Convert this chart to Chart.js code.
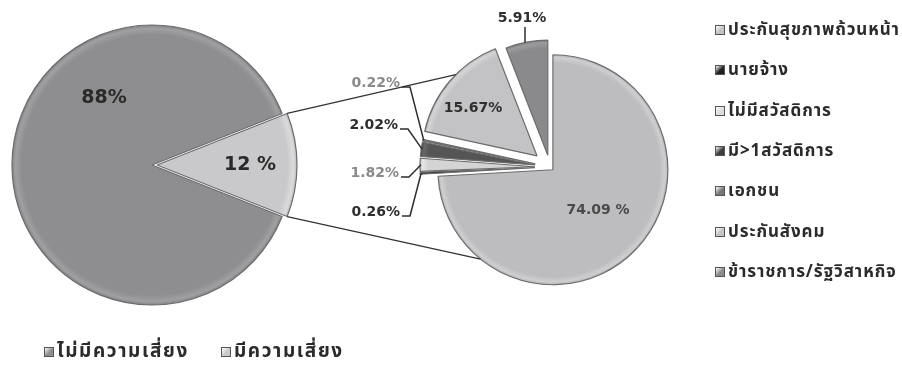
<!DOCTYPE html>
<html>
<head>
<meta charset="utf-8">
<script src="https://cdn.jsdelivr.net/npm/chart.js@4/dist/chart.umd.min.js"></script>
<style>
  html, body { margin: 0; padding: 0; background: #fff; }
  #wrap { position: relative; width: 902px; height: 366px; overflow: hidden;
          font-family: Tahoma, "Noto Sans Thai", "DejaVu Sans", sans-serif; font-weight: bold; }
  #wrap canvas { position: absolute; left: 0; top: 0; }
  .item { position: absolute; display: flex; align-items: center; white-space: nowrap;
          color: #2b2b2b; font-size: 17px; letter-spacing: 0.9px; line-height: 22px; }
  .item.big { font-size: 19px; letter-spacing: 1.6px; }
  .sw { display: inline-block; width: 10px; height: 10px; margin-right: 3px;
        border: 1px solid #555; box-sizing: border-box; flex: none; }
</style>
</head>
<body>
<div id="wrap">
  <canvas id="riskPie" width="902" height="366"></canvas>
  <canvas id="welfarePie" width="902" height="366"></canvas>
</div>
<script>
// Main split: share of people with and without risk
const riskLabels = ['ไม่มีความเสี่ยง', 'มีความเสี่ยง'];
const riskValues = [88, 12];

// Breakdown of the at-risk group by type of health coverage (%)
const welfareLabels = ['ประกันสุขภาพถ้วนหน้า', 'นายจ้าง', 'ไม่มีสวัสดิการ', 'มี>1สวัสดิการ',
                       'เอกชน', 'ประกันสังคม', 'ข้าราชการ/รัฐวิสาหกิจ'];
const welfareValues = [74.09, 0.26, 1.82, 2.02, 0.22, 15.67, 5.91];

const riskColors = ['#8e8e90', '#c9c9cb'];
const welfareColors = ['#bdbdbf', '#1f1f1f', '#d4d4d4', '#555555', '#8d8d8d', '#c3c3c5', '#8a8a8c'];
const welfareSwatches = ['#c2c2c2', '#1f1f1f', '#dcdcdc', '#3e3e3e', '#777777', '#c4c4c4', '#8a8a8a'];

// Pull individual slices away from the centre (pixels, along the slice bisector)
const baseArcDraw = Chart.ArcElement.prototype.draw;
function explodeOf(arc) {
  const c = arc.$context;
  const list = c && c.dataset && c.dataset.explode;
  return list ? (list[c.dataIndex] || 0) : 0;
}
Chart.ArcElement.prototype.draw = function (ctx, area) {
  const d = explodeOf(this);
  const mid = (this.startAngle + this.endAngle) / 2;
  ctx.save();
  ctx.translate(Math.cos(mid) * d, Math.sin(mid) * d);
  baseArcDraw.call(this, ctx, area);
  ctx.restore();
};
function sliceCenter(arc) {
  const d = explodeOf(arc);
  const mid = (arc.startAngle + arc.endAngle) / 2;
  return { x: arc.x + Math.cos(mid) * d, y: arc.y + Math.sin(mid) * d, mid };
}
function rimPoint(arc, angle, extra) {
  const c = sliceCenter(arc);
  const r = arc.outerRadius + (extra || 0);
  return { x: c.x + Math.cos(angle) * r, y: c.y + Math.sin(angle) * r };
}
const deg = Math.PI / 180;
const fmt = (v, gap) => String(v) + (gap ? ' %' : '%');

// Soft bevelled rim: flat fill with a light band just inside the outline
function shade(hex, amt) {
  const n = parseInt(hex.slice(1), 16);
  const f = c => Math.max(0, Math.min(255, Math.round(c + amt)));
  return 'rgb(' + f(n >> 16) + ',' + f((n >> 8) & 255) + ',' + f(n & 255) + ')';
}
function rimFill(colors) {
  return function (context) {
    const chart = context.chart;
    const area = chart.chartArea;
    if (!area) return colors[context.dataIndex];
    const cx = (area.left + area.right) / 2, cy = (area.top + area.bottom) / 2;
    const r = chart.options.radius;
    const base = colors[context.dataIndex];
    const g = chart.ctx.createRadialGradient(cx, cy, 0, cx, cy, r);
    g.addColorStop(0, base);
    g.addColorStop(0.93, base);
    g.addColorStop(0.975, shade(base, 18));
    g.addColorStop(1, shade(base, -10));
    return g;
  };
}

function text(ctx, str, x, y, size, color, align) {
  ctx.save();
  ctx.font = 'bold ' + size + 'px "DejaVu Sans", Verdana, sans-serif';
  ctx.fillStyle = color;
  ctx.textAlign = align || 'center';
  ctx.textBaseline = 'middle';
  ctx.fillText(str, x, y);
  ctx.restore();
}

const riskTotal = riskValues.reduce((a, b) => a + b, 0);

const riskLabelPlugin = {
  id: 'riskLabels',
  afterDatasetsDraw(chart) {
    const ctx = chart.ctx;
    const arcs = chart.getDatasetMeta(0).data;
    const big = arcs[0];
    text(ctx, fmt(riskValues[0]), big.x - 48, big.y - 67, 19, '#2a2a2a');
    const small = arcs[1];
    const c = sliceCenter(small);
    text(ctx, fmt(riskValues[1], true), c.x + Math.cos(c.mid) * 93, c.y + Math.sin(c.mid) * 93, 19, '#2a2a2a');
  }
};

const chartA = new Chart(document.getElementById('riskPie'), {
  type: 'pie',
  data: {
    labels: riskLabels,
    datasets: [{
      data: riskValues,
      backgroundColor: rimFill(riskColors),
      borderColor: '#6c6c6e',
      borderWidth: 1.2,
      explode: [0, 5],
      clip: false
    }]
  },
  options: {
    responsive: false,
    animation: false,
    radius: 140,
    rotation: 90 + riskValues[1] / riskTotal * 180,
    layout: { padding: { left: 0, right: 598, top: 0, bottom: 36 } },
    plugins: { legend: { display: false }, tooltip: { enabled: false } }
  },
  plugins: [riskLabelPlugin]
});

// Value labels of the breakdown pie: inside labels sit at an offset from the pie centre,
// outside labels are right-aligned and joined to their slice by an elbow leader.
const welfareLabelSpec = [
  { i: 0, dx: 48, dy: 43, color: '#4a4a4a', gap: true },
  { i: 5, dx: -77, dy: -59, color: '#2e2e2e' },
  { i: 6, dx: -28, dy: -149, color: '#2e2e2e', vertical: true },
  { i: 4, dx: -150, dy: -84, color: '#8a8a8a', leader: true, align: 'right' },
  { i: 3, dx: -152, dy: -42, color: '#2e2e2e', leader: true, align: 'right' },
  { i: 2, dx: -151, dy: 6, color: '#8a8a8a', leader: true, align: 'right' },
  { i: 1, dx: -150, dy: 45, color: '#2e2e2e', leader: true, align: 'right' }
];

const welfareLabelPlugin = {
  id: 'welfareLabels',
  afterDatasetsDraw(chart) {
    const ctx = chart.ctx;
    const arcs = chart.getDatasetMeta(0).data;
    const cx = arcs[0].x, cy = arcs[0].y;

    // connector lines from the small slice of the main pie to the breakdown pie
    const src = chartA.getDatasetMeta(0).data[1];
    const top = rimPoint(src, src.startAngle);
    const bottom = rimPoint(src, src.endAngle);
    const toTop = rimPoint(arcs[5], (315 - 90) * deg);
    const toBottom = rimPoint(arcs[0], (219 - 90) * deg);
    ctx.save();
    ctx.strokeStyle = '#333';
    ctx.lineWidth = 1.3;
    ctx.beginPath();
    ctx.moveTo(top.x, top.y); ctx.lineTo(toTop.x, toTop.y);
    ctx.moveTo(bottom.x, bottom.y); ctx.lineTo(toBottom.x, toBottom.y);
    ctx.stroke();
    ctx.restore();

    welfareLabelSpec.forEach(s => {
      const arc = arcs[s.i];
      const x = cx + s.dx, y = cy + s.dy;
      const str = fmt(welfareValues[s.i], s.gap);
      text(ctx, str, x, y, 14, s.color, s.align);
      ctx.save();
      ctx.strokeStyle = '#2e2e2e';
      ctx.lineWidth = 1.5;
      if (s.leader) {
        const tip = rimPoint(arc, (arc.startAngle + arc.endAngle) / 2, -1);
        ctx.beginPath();
        ctx.moveTo(x + 2, y + 4);
        ctx.lineTo(x + 10, y + 4);
        ctx.lineTo(tip.x, tip.y);
        ctx.stroke();
      } else if (s.vertical) {
        const c = sliceCenter(arc);
        const lx = x + 3;
        const ry = c.y - Math.sqrt(Math.max(arc.outerRadius * arc.outerRadius - (lx - c.x) * (lx - c.x), 0));
        ctx.beginPath();
        ctx.moveTo(lx, y + 9);
        ctx.lineTo(lx, ry);
        ctx.stroke();
      }
      ctx.restore();
    });
  }
};

new Chart(document.getElementById('welfarePie'), {
  type: 'pie',
  data: {
    labels: welfareLabels,
    datasets: [{
      data: welfareValues,
      backgroundColor: rimFill(welfareColors),
      borderColor: '#6c6c6e',
      borderWidth: 1.2,
      explode: [4, 15, 15, 15, 15, 17, 12],
      clip: false
    }]
  },
  options: {
    responsive: false,
    animation: false,
    radius: 115,
    rotation: 0,
    layout: { padding: { left: 350, right: 152, top: 0, bottom: 32 } },
    plugins: { legend: { display: false }, tooltip: { enabled: false } }
  },
  plugins: [welfareLabelPlugin]
});

// Legends
const wrap = document.getElementById('wrap');
function legendItem(label, color, left, centerY, big) {
  const el = document.createElement('div');
  el.className = big ? 'item big' : 'item';
  el.style.left = left + 'px';
  el.style.top = (centerY - 11) + 'px';
  const sw = document.createElement('span');
  sw.className = 'sw';
  sw.style.background = 'linear-gradient(135deg, #fff 0%, ' + color + ' 55%, ' + color + ' 100%)';
  el.appendChild(sw);
  el.appendChild(document.createTextNode(label));
  wrap.appendChild(el);
}
welfareLabels.forEach((l, i) => legendItem(l, welfareSwatches[i], 715, 30 + i * 40.3));
legendItem(riskLabels[0], riskColors[0], 44, 352, true);
legendItem(riskLabels[1], riskColors[1], 221, 352, true);
</script>
</body>
</html>
